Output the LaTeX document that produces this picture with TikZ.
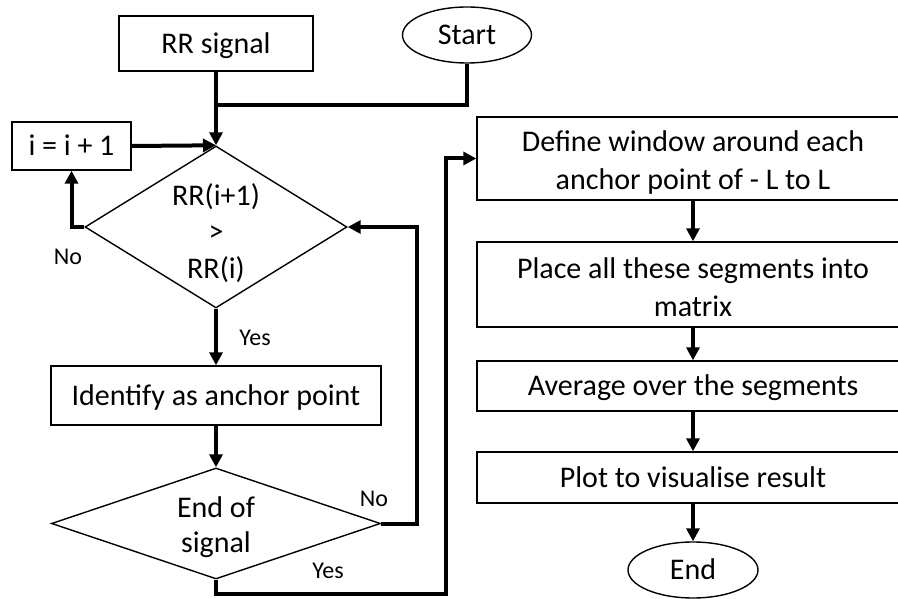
\documentclass[tikz,border=0pt]{standalone}
\usepackage{fontspec}
\setmainfont{Carlito}
\usetikzlibrary{shapes.geometric,arrows.meta}
\begin{document}
\begin{tikzpicture}[x=1pt,y=-1pt,
  box/.style={draw, line width=1.4pt, rectangle, inner sep=0pt, align=center, font=\fontsize{30}{38}\selectfont, text height=19.5pt, text depth=0pt},
  mbox/.style={draw, line width=1.4pt, rectangle, inner sep=0pt},
  term/.style={draw, line width=1.4pt, ellipse, inner sep=0pt, font=\fontsize{30}{37}\selectfont, text height=19.5pt, text depth=0pt},
  dec/.style={draw, line width=1.4pt, diamond, inner sep=0pt},
  mtext/.style={align=center, inner sep=0pt, font=\fontsize{30}{38}\selectfont},
  lbl/.style={font=\fontsize{24}{28}\selectfont},
  conn/.style={line width=4pt},
  arr/.style={line width=4pt, -{Triangle[length=13pt,width=13pt]}},
]
\useasboundingbox (0,0) rectangle (898,599);
\clip (0,0) rectangle (898,599);
\fill[white] (0,0) rectangle (898,599);

% nodes
\node[box, minimum width=194pt, minimum height=55pt] (rr) at (216,43.5) {RR signal};
\node[term, minimum width=129pt, minimum height=56pt] (start) at (467,35) {Start};
\node[box, minimum width=119pt, minimum height=48pt] (inc) at (71.5,146) {i = i + 1};
\node[dec, minimum width=262pt, minimum height=162pt] (d1) at (216,227) {};
\node[mtext, font=\fontsize{30}{36.5}\selectfont, yshift=-6pt] (d1t) at (d1.center) {RR(i+1)\\>\\RR(i)};
\node[box, minimum width=330pt, minimum height=59pt] (id) at (216,395.5) {Identify as anchor point};
\node[dec, minimum width=329pt, minimum height=111pt] (d2) at (216,523.5) {};
\node[mtext, font=\fontsize{30}{35}\selectfont, yshift=-4pt] (d2t) at (d2.center) {End of\\signal};

\node[mbox, minimum width=432pt, minimum height=83pt] (r1) at (693,158.5) {};
\node[mtext, yshift=-4pt] (r1t) at (r1.center) {Define window around each\\anchor point of - L to L};
\node[mbox, minimum width=432pt, minimum height=85pt] (r2) at (693,284.5) {};
\node[mtext, yshift=-3pt] (r2t) at (r2.center) {Place all these segments into\\matrix};
\node[box, minimum width=432pt, minimum height=50pt] (r3) at (693,386) {Average over the segments};
\node[box, minimum width=432pt, minimum height=51pt] (r4) at (693,477.5) {Plot to visualise result};
\node[term, minimum width=130pt, minimum height=56pt] (end) at (693,570) {End};

% helper coordinates
\coordinate (j1) at (216,105);
\coordinate (c1) at (417,400);
\coordinate (c2) at (446,594);

% connectors
\draw[conn] (rr.south) -- (j1);
\draw[conn] (start.south) |- (j1);
\draw[arr] (j1) -- (d1.north);
\draw[arr] (inc.east) -- (d1.north);
\draw[arr] (d1.west) -| (inc.south);
\draw[arr] (d1.south) -- (id.north);
\draw[arr] (id.south) -- (d2.north);
\draw[arr] (d2.east) -| (c1) |- (d1.east);
\draw[arr] (d2.south) |- (c2) |- (r1.west);
\draw[arr] (r1.south) -- (r2.north);
\draw[arr] (r2.south) -- (r3.north);
\draw[arr] (r3.south) -- (r4.north);
\draw[arr] (r4.south) -- (end.north);

% labels
\node[lbl] (lno1) at (68,257) {No};
\node[lbl] (lyes1) at (255,338) {Yes};
\node[lbl] (lno2) at (374,499) {No};
\node[lbl] (lyes2) at (328,571) {Yes};
\end{tikzpicture}
\end{document}
